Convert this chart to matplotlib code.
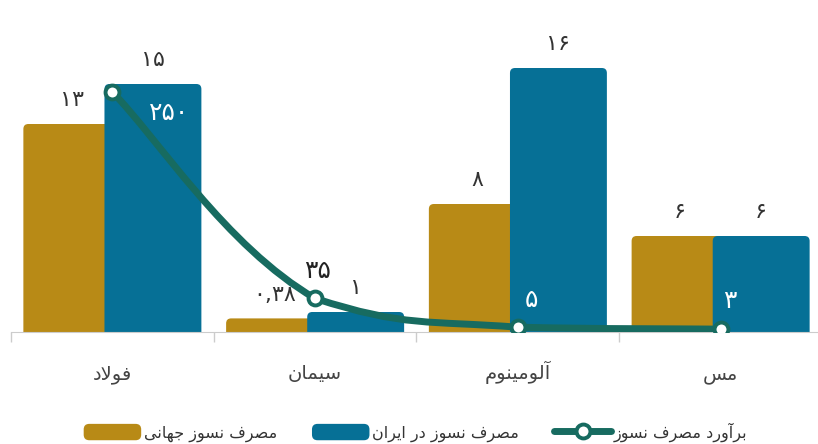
import numpy as np
import matplotlib
matplotlib.use('Agg')
import matplotlib.pyplot as plt
from matplotlib.patches import FancyBboxPatch, Patch
from matplotlib.lines import Line2D
from matplotlib.path import Path
from matplotlib.patches import PathPatch
from matplotlib.legend_handler import HandlerPatch

plt.rcParams['font.family'] = ['DejaVu Sans']

# data
categories = ['فولاد', 'سیمان', 'آلومینوم', 'مس']
world_use = [13, 0.85, 8, 6]          # مصرف نسوز جهانی
world_labels = ['۱۳', '۰,۳۸', '۸', '۶']
iran_use = [15.5, 1.25, 16.5, 6]      # مصرف نسوز در ایران
iran_labels = ['۱۵', '۱', '۱۶', '۶']
estimate = [250, 35, 5, 3]            # برآورد مصرف نسوز
estimate_labels = ['۲۵۰', '۳۵', '۵', '۳']

legend_names = ['مصرف نسوز جهانی', 'مصرف نسوز در ایران', 'برآورد مصرف نسوز']

GOLD = '#b88a16'
BLUE = '#067096'
TEAL = '#176b60'

# crude persian shaping (matplotlib has no arabic shaping / bidi)
FORMS = {
    'ا': ('\uFE8D', '\uFE8E', None, None),
    'آ': ('\uFE81', '\uFE82', None, None),
    'ب': ('\uFE8F', '\uFE90', '\uFE91', '\uFE92'),
    'ج': ('\uFE9D', '\uFE9E', '\uFE9F', '\uFEA0'),
    'د': ('\uFEA9', '\uFEAA', None, None),
    'ر': ('\uFEAD', '\uFEAE', None, None),
    'ز': ('\uFEAF', '\uFEB0', None, None),
    'س': ('\uFEB1', '\uFEB2', '\uFEB3', '\uFEB4'),
    'ص': ('\uFEB9', '\uFEBA', '\uFEBB', '\uFEBC'),
    'ف': ('\uFED1', '\uFED2', '\uFED3', '\uFED4'),
    'ل': ('\uFEDD', '\uFEDE', '\uFEDF', '\uFEE0'),
    'م': ('\uFEE1', '\uFEE2', '\uFEE3', '\uFEE4'),
    'ن': ('\uFEE5', '\uFEE6', '\uFEE7', '\uFEE8'),
    'ه': ('\uFEE9', '\uFEEA', '\uFEEB', '\uFEEC'),
    'و': ('\uFEED', '\uFEEE', None, None),
    'ی': ('\uFEEF', '\uFEF0', '\uFEF3', '\uFEF4'),
}
LAMALEF = {'ا': ('\uFEFB', '\uFEFC'), 'آ': ('\uFEF5', '\uFEF6')}


def fa(s):
    out = []
    i = 0
    while i < len(s):
        c = s[i]
        if c not in FORMS:
            out.append(c)
            i += 1
            continue
        prev = s[i-1] if i > 0 else None
        jp = prev in FORMS and FORMS[prev][2] is not None
        if c == 'ل' and i + 1 < len(s) and s[i+1] in LAMALEF:
            out.append(LAMALEF[s[i+1]][1 if jp else 0])
            i += 2
            continue
        nxt = s[i+1] if i + 1 < len(s) else None
        jn = FORMS[c][2] is not None and nxt in FORMS
        iso, fin, ini, med = FORMS[c]
        if jp and jn:
            out.append(med)
        elif jp:
            out.append(fin)
        elif jn:
            out.append(ini)
        else:
            out.append(iso)
        i += 1
    return ''.join(out)[::-1]


fig = plt.figure(figsize=(8.18, 4.44), dpi=100)
ax = fig.add_axes([11/818, 112/444, 811/818, 320/444])
ax.set_xlim(-0.5, 3.5)
ax.set_ylim(0, 20)

x = np.arange(len(categories))
bw = 0.478
asp = (20/320) / (4/811)   # y units per px / x units per px
rad = 5 / (811/4)


def rounded_bars(xs, vals, color, z):
    bars = ax.bar(xs, vals, width=bw, color=color)
    for r in bars:
        x0, w, h = r.get_x(), r.get_width(), r.get_height()
        r.remove()
        p = FancyBboxPatch((x0, -0.6), w, h + 0.6,
                           boxstyle='round,pad=0,rounding_size=%f' % rad,
                           mutation_aspect=asp, facecolor=color,
                           edgecolor='none', zorder=z)
        ax.add_patch(p)


rounded_bars(x - 0.2, world_use, GOLD, 2)
rounded_bars(x + 0.2, iran_use, BLUE, 3)

for xi, v, lab in zip(x - 0.2, world_use, world_labels):
    ax.annotate(lab, (xi, v), xytext=(0, 17), textcoords='offset points',
                ha='center', va='center', fontsize=16, color='#333333')
for xi, v, lab in zip(x + 0.2, iran_use, iran_labels):
    ax.annotate(lab, (xi, v), xytext=(0, 17), textcoords='offset points',
                ha='center', va='center', fontsize=16, color='#333333')

for s in ['top', 'left', 'right']:
    ax.spines[s].set_visible(False)
ax.spines['bottom'].set_color('#cccccc')
ax.spines['bottom'].set_zorder(4)
ax.set_yticks([])
ax.set_xticks(x)
ax.set_xticklabels([fa(c) for c in categories], fontsize=14, color='#444444')
for lbl in ax.get_xticklabels():
    lbl.set_va('baseline')
ax.tick_params(axis='x', which='major', length=0, pad=34)
ax.set_xticks(np.arange(-0.5, 4.0, 1.0), minor=True)
ax.tick_params(axis='x', which='minor', length=7, color='#cccccc', width=1)

# estimate line on secondary axis, smoothed with bezier segments
ax2 = ax.twinx()
ax2.set_ylim(0, 250 * 320 / 240)
ax2.axis('off')
pts = np.column_stack([x, estimate]).astype(float)
sm = 0.22
verts = [pts[0]]
codes = [Path.MOVETO]
n = len(pts)
for i in range(n - 1):
    pm = pts[i-1] if i > 0 else pts[i]
    p2 = pts[i+2] if i + 2 < n else pts[i+1]
    c1 = pts[i] + (pts[i+1] - pm) * sm
    c2 = pts[i+1] - (p2 - pts[i]) * sm
    lo, hi = sorted([pts[i][1], pts[i+1][1]])
    c1[1] = min(max(c1[1], lo), hi)
    c2[1] = min(max(c2[1], lo), hi)
    verts += [c1, c2, pts[i+1]]
    codes += [Path.CURVE4] * 3
ax2.add_patch(PathPatch(Path(verts, codes), facecolor='none', edgecolor=TEAL,
                        lw=5, capstyle='round', zorder=5))
ax2.plot(x, estimate, ls='none', marker='o', ms=10, mfc='white', mec=TEAL,
         mew=2.8, zorder=6)

offs = [(41, -15), (1.5, 20), (10, 19.5), (6.5, 20)]
cols = ['white', '#222222', 'white', 'white']
for xi, v, lab, o, c in zip(x, estimate, estimate_labels, offs, cols):
    ax2.annotate(lab, (xi, v), xytext=o, textcoords='offset points',
                 ha='center', va='center', fontsize=18, color=c, zorder=7)


class RoundHandler(HandlerPatch):
    def create_artists(self, legend, orig_handle, xdescent, ydescent,
                       width, height, fontsize, trans):
        p = FancyBboxPatch((-xdescent, -ydescent), width, height,
                           boxstyle='round,pad=0,rounding_size=4',
                           facecolor=orig_handle.get_facecolor(),
                           edgecolor='none', transform=trans)
        return [p]


handles = [Patch(facecolor=GOLD), Patch(facecolor=BLUE),
           Line2D([], [], color=TEAL, lw=5, solid_capstyle='round', marker='o',
                  ms=10, mfc='white', mec=TEAL, mew=2.8)]
fig.legend(handles, [fa(t) for t in legend_names], loc='center',
           bbox_to_anchor=(0.508, 0.027), ncol=3, frameon=False, fontsize=11.5,
           handlelength=3.6, handleheight=1.2, handletextpad=0.15,
           columnspacing=2.2, numpoints=1,
           handler_map={Patch: RoundHandler()}, labelcolor='#333333')

fig.savefig('out.png', dpi=100)
